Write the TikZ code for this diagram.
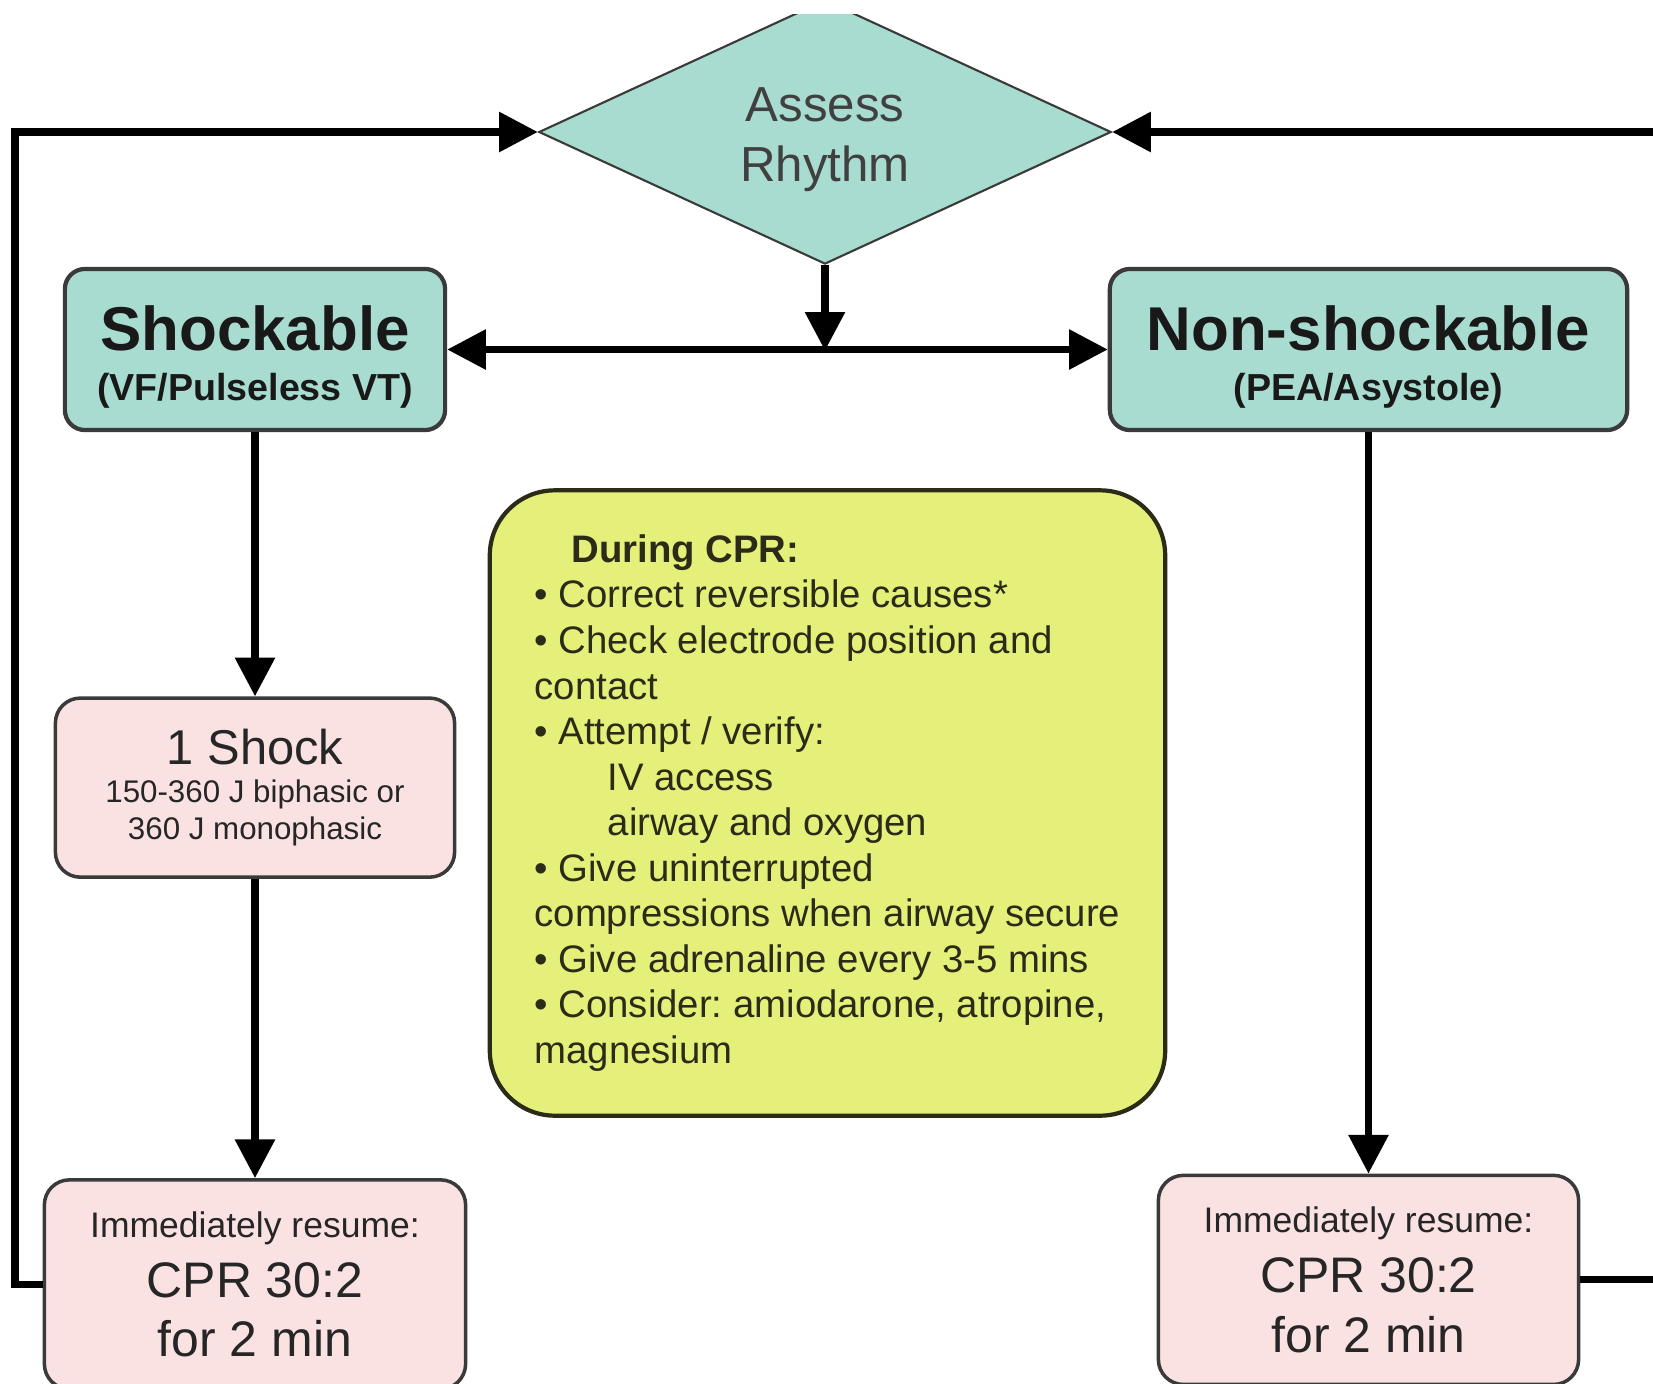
\documentclass[tikz,border=0pt]{standalone}
\usepackage{fontspec}
\setmainfont{Liberation Sans}
\usetikzlibrary{positioning,shapes.geometric,arrows.meta}
\definecolor{tealfill}{HTML}{A8DCD0}
\definecolor{pinkfill}{HTML}{FBE2E2}
\definecolor{notefill}{HTML}{E5F07A}
\definecolor{linegray}{HTML}{3A3A3A}
\definecolor{notetext}{HTML}{2B2B18}
\frenchspacing

\begin{document}
\begin{tikzpicture}[x=0.01cm, y=-0.01cm,
			% teal boxes for the two rhythm groups
			tealnode/.style={rectangle, draw=linegray, line width=1.2pt, fill=tealfill, rounded corners=0.2cm, inner sep=0pt, align=center, text=black!90},
			% pink boxes for the actions
			pinknode/.style={rectangle, draw=linegray, line width=1pt, fill=pinkfill, rounded corners=0.25cm, inner sep=0pt, align=center, text=black!85},
			decisionnode/.style={diamond, aspect=2.17, draw=linegray, line width=0.6pt, fill=tealfill, inner sep=0pt, align=center, text=black!75},
			notenode/.style={rectangle, draw=notetext, line width=1.2pt, fill=notefill, rounded corners=0.65cm, inner xsep=0.4cm, inner ysep=0pt, align=left, text=notetext},
			flow/.style={line width=2pt, -{Triangle[length=11pt,width=11pt]}},
			flowboth/.style={line width=2pt, {Triangle[length=11pt,width=11pt]}-{Triangle[length=11pt,width=11pt]}},
			plainline/.style={line width=2pt},
			point/.style={coordinate}
		]
		\useasboundingbox (0,0) rectangle (1653,1384);
		\fill[white] (0,0) rectangle (1653,1384);
		\clip (0,14) rectangle (1653,1384);

		%Nodes
		\node[decisionnode, minimum width=5.72cm, minimum height=2.64cm, font=\fontsize{14}{17}\selectfont]
			(assess) at (825,132) {\rule{0pt}{14pt}Assess\\Rhythm};
		\node[tealnode, minimum width=3.8cm, minimum height=1.61cm, font=\fontsize{10.7}{14.4}\selectfont\bfseries]
			(shock) at (255,349.5) {\rule{0pt}{17pt}{\fontsize{17.6}{14.4}\selectfont Shockable}\\(VF/Pulseless VT)};
		\node[tealnode, minimum width=5.17cm, minimum height=1.61cm, font=\fontsize{10.7}{14.4}\selectfont\bfseries]
			(nonshock) at (1368.5,349.5) {\rule{0pt}{17pt}{\fontsize{17.6}{14.4}\selectfont Non-shockable}\\(PEA/Asystole)};
		\node[pinknode, minimum width=3.99cm, minimum height=1.79cm, font=\fontsize{8.9}{10.7}\selectfont]
			(oneshock) [below=2.64cm of shock] {{\fontsize{13.9}{10.7}\selectfont 1 Shock}\\150-360 J biphasic or\\360 J monophasic};
		\node[pinknode, minimum width=4.21cm, minimum height=2.09cm, font=\fontsize{14.2}{17}\selectfont]
			(cprL) [below=2.99cm of oneshock] {{\fontsize{10.1}{17}\selectfont Immediately resume:}\\CPR 30:2\\for 2 min};
		\node[pinknode, minimum width=4.2cm, minimum height=2.09cm, font=\fontsize{14.2}{17}\selectfont]
			(cprR) [below=7.41cm of nonshock] {{\fontsize{10.1}{17}\selectfont Immediately resume:}\\CPR 30:2\\for 2 min};
		% note in the middle
		\node[notenode, minimum width=6.75cm, minimum height=6.25cm, font=\fontsize{10.9}{12.95}\selectfont]
			(during) at (827.5,803) {\hspace*{10.5pt}\textbf{During CPR:}\\
			\textbullet\ Correct reversible causes*\\
			\textbullet\ Check electrode position and\\
			contact\\
			\textbullet\ Attempt / verify:\\
			\hspace*{20.8pt}IV access\\
			\hspace*{20.8pt}airway and oxygen\\
			\textbullet\ Give uninterrupted\\
			compressions when airway secure\\
			\textbullet\ Give adrenaline every 3-5 mins\\
			\textbullet\ Consider: amiodarone, atropine,\\
			magnesium};

		% invisible points for the bends and the open ends
		\node[point] (split)  [below=0.855cm of assess] {};
		\node[point] (loopL)  at (15,132) {};
		\node[point] (edgeR)  at (1680,132) {};

		%Lines
		\draw[flow]      (assess.south)   --  (split);
		\draw[flowboth]  (shock.east)     --  (nonshock.west);
		\draw[flow]      (shock)          --  (oneshock);
		\draw[flow]      (oneshock)       --  (cprL);
		\draw[flow]      (nonshock)       --  (cprR);
		% loops back to the rhythm check
		\draw[flow]      (cprL.west)      -|  (loopL) -- (assess.west);
		\draw[flow]      (edgeR)          --  (assess.east);
		\draw[plainline] (cprR.east)      --  (cprR.east -| edgeR);
	\end{tikzpicture}
\end{document}
